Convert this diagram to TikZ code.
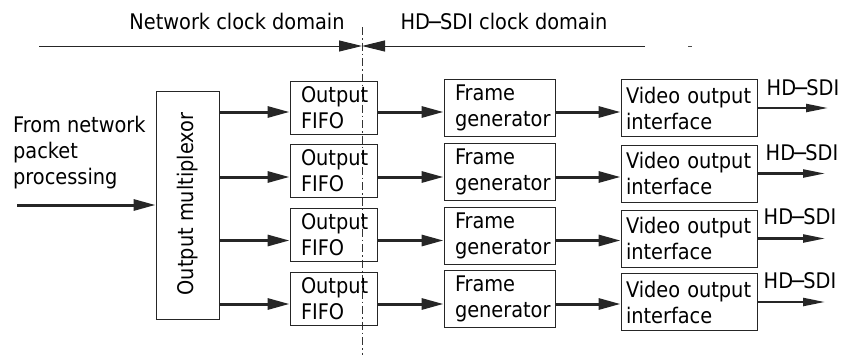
\documentclass[tikz,border=0pt]{standalone}
\usepackage{fontspec}
\setmainfont{DejaVu Sans Condensed}
\usetikzlibrary{arrows.meta}
\newcommand{\hdsdi}{HD\kern-3pt−\kern-3pt SDI}
\begin{document}
\begin{tikzpicture}[x=1pt,y=-1pt,
  font=\fontsize{21.5}{26}\selectfont,
  box/.style={draw=black!85, line width=0.9pt, rectangle, align=left,
    execute at begin node={\hyphenpenalty=10000\exhyphenpenalty=10000}},
  fifobox/.style={box, inner xsep=11pt, text width=65pt, minimum height=53pt},
  framebox/.style={box, inner xsep=11pt, text width=89pt, minimum height=57pt},
  vidbox/.style={box, inner xsep=5pt, text width=126pt, minimum height=57pt},
  flow/.style={line width=3pt, black!85, -{Triangle[length=22pt,width=11pt]}},
  outflow/.style={line width=2.3pt, black!85, -{Triangle[length=22pt,width=8pt]}},
  plain/.style={inner sep=0pt}]
\useasboundingbox (0,0) rectangle (844,356);

% clock-domain boundary and labels
\coordinate (bt) at (362,27);
\coordinate (bb) at (362,355);
\coordinate (dl) at (39,46);
\coordinate (dm) at (362,46);
\coordinate (dr) at (645,46);
\draw[line width=0.8pt, black!80, dash pattern=on 8pt off 3pt on 1.5pt off 3pt] (bt) -- (bb);
\draw[line width=1pt, black!85, -{Triangle[length=23pt,width=11pt]}] (dl) -- (dm);
\draw[line width=1pt, black!85, -{Triangle[length=23pt,width=11pt]}] (dr) -- (dm);
\draw[line width=1pt, black!70] (688,46) -- (692,46);
\node[plain] (netlbl) at (237,21) {Network clock domain};
\node[plain] (hdlbl) at (504,21) {\hdsdi{} clock domain};

% input and multiplexor
\node[plain, anchor=west, align=left] (src) at (13,153) {From network\\packet\\processing};
\node[box, minimum width=63pt, minimum height=228pt] (mux) at (187.5,205) {};
\node[plain, rotate=90] (muxlbl) at (188,204) {Output multiplexor};
\coordinate (in) at (17,205);
\draw[flow] (in) -- (in -| mux.west);

% four output channels
\node[fifobox] (f1) at (333.5,107.5) {Output\\FIFO};
\node[fifobox] (f2) at (333.5,171) {Output\\FIFO};
\node[fifobox] (f3) at (333.5,235) {Output\\FIFO};
\node[fifobox] (f4) at (333.5,299) {Output\\FIFO};

\node[framebox] (g1) at (499.5,108) {Frame\\generator};
\node[framebox] (g2) at (499.5,172) {Frame\\generator};
\node[framebox] (g3) at (499.5,235.5) {Frame\\generator};
\node[framebox] (g4) at (499.5,299) {Frame\\generator};

\node[vidbox] (v1) at (689,108) {Video output\\interface};
\node[vidbox] (v2) at (689,173.5) {Video output\\interface};
\node[vidbox] (v3) at (689,238.5) {Video output\\interface};
\node[vidbox] (v4) at (689,302) {Video output\\interface};

\node[plain] (o1) at (803,88) {\hdsdi};
\node[plain] (o2) at (802,153) {\hdsdi};
\node[plain] (o3) at (800,217) {\hdsdi};
\node[plain] (o4) at (800,281) {\hdsdi};

\coordinate (r1) at (0,112);
\coordinate (r2) at (0,177);
\coordinate (r3) at (0,240.5);
\coordinate (r4) at (0,304);
\coordinate (e1) at (828,0);
\coordinate (e2) at (825,0);

\foreach \i in {1,2,3,4} {
  \draw[flow] (mux.east |- r\i) -- (f\i.west |- r\i);
  \draw[flow] (f\i.east |- r\i) -- (g\i.west |- r\i);
  \draw[flow] (g\i.east |- r\i) -- (v\i.west |- r\i);
}
\draw[outflow] (v1.east) -- (v1.east -| e1);
\draw[outflow] (v2.east) -- (v2.east -| e2);
\draw[outflow] (v3.east) -- (v3.east -| e2);
\draw[outflow] (v4.east) -- (v4.east -| e2);
\end{tikzpicture}
\end{document}
